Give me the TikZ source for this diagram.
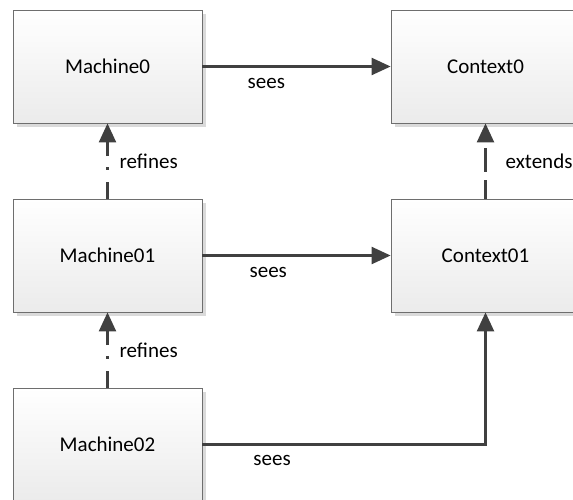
\documentclass[tikz,border=0pt]{standalone}
\usepackage{fontspec}
\setmainfont{Carlito}
\usetikzlibrary{%
	arrows.meta,%
	shadows,%
	positioning
}
\definecolor{linegray}{HTML}{404040}
\definecolor{boxborder}{HTML}{6E6E6E}
\definecolor{boxbottom}{HTML}{EBEBEB}
\definecolor{shadowgray}{HTML}{DADADA}

\begin{document}
\begin{tikzpicture}[x=1pt,y=-1pt,
	box/.style={draw=boxborder,line width=0.8pt,top color=white,bottom color=boxbottom,
		minimum width=189pt,minimum height=113pt,inner sep=0pt,
		font=\fontsize{21}{25}\selectfont,
		drop shadow={shadow xshift=4pt,shadow yshift=-4pt,fill=shadowgray,opacity=1}},
	lbl/.style={inner sep=0pt,font=\fontsize{21}{25}\selectfont},
	link/.style={draw=linegray,line width=2.3pt,-{Triangle[length=19pt,width=17pt]}},
	sees/.style={link},
	refinesline/.style={link,dash pattern=on 17pt off 12pt on 2.5pt off 11pt on 30pt off 0pt},
	extendsline/.style={link,dash pattern=on 19pt off 8pt on 24pt off 10pt}]
	\useasboundingbox (0,0) rectangle (573,500);
	\clip (0,0) rectangle (573,500);
	% boxes
	\node[box] (machine0) at (107.5,66.5) {Machine0};
	\node[box] (context0) at (485.5,66.5) {Context0};
	\node[box] (machine01) at (107.5,255.5) {Machine01};
	\node[box] (context01) at (485.5,255.5) {Context01};
	\node[box] (machine02) at (107.5,444.5) {Machine02};
	% connectors
	\draw[sees] (machine0) -- node[lbl,pos=0.34,yshift=-17pt] {sees} (context0);
	\draw[sees] (machine01) -- node[lbl,pos=0.35,yshift=-17pt] {sees} (context01);
	\draw[sees] (machine02) -| node[lbl,pos=0.123,yshift=-16pt] {sees} (context01);
	\draw[refinesline] (machine01) -- node[lbl,midway,right=11pt] {refines} (machine0);
	\draw[refinesline] (machine02) -- node[lbl,midway,right=11pt] {refines} (machine01);
	\draw[extendsline] (context01) -- node[lbl,midway,right=19pt] {extends} (context0);
\end{tikzpicture}
\end{document}
